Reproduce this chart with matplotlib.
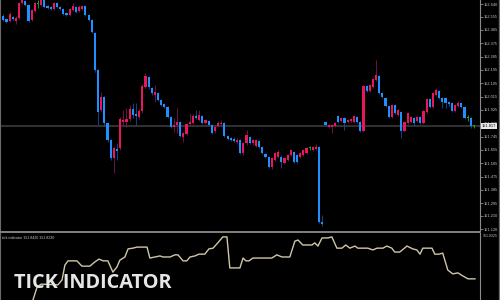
import numpy as np
import matplotlib
matplotlib.use("Agg")
import matplotlib.pyplot as plt
from matplotlib.lines import Line2D

# OHLC of the 150 bars, left to right
opens = [
    152.559, 152.539, 152.525, 152.552, 152.525, 152.546, 152.647, 152.660, 152.633, 152.532,
    152.593, 152.640, 152.633, 152.667, 152.627, 152.620, 152.606, 152.647, 152.620, 152.606,
    152.579, 152.566, 152.600, 152.620, 152.593, 152.606, 152.627, 152.566, 152.532, 152.444,
    152.195, 151.925, 152.012, 151.837, 151.722, 151.601, 151.661, 151.668, 151.844, 151.844,
    151.864, 151.931, 151.898, 151.877, 151.918, 152.080, 152.147, 152.073, 152.026, 152.039,
    151.992, 151.965, 151.945, 151.877, 151.810, 151.823, 151.844, 151.742, 151.763, 151.830,
    151.837, 151.884, 151.857, 151.884, 151.837, 151.850, 151.823, 151.783, 151.817, 151.830,
    151.837, 151.749, 151.736, 151.729, 151.709, 151.722, 151.634, 151.702, 151.742, 151.702,
    151.682, 151.715, 151.675, 151.628, 151.607, 151.540, 151.587, 151.607, 151.607, 151.567,
    151.587, 151.621, 151.641, 151.621, 151.607, 151.621, 151.634, 151.668, 151.655, 151.661,
    151.675, 151.169, 151.844, 151.810, 151.810, 151.817, 151.884, 151.850, 151.871, 151.844,
    151.850, 151.844, 151.877, 151.844, 151.783, 152.086, 152.053, 152.080, 152.127, 152.154,
    152.039, 152.006, 151.952, 151.877, 151.958, 151.891, 151.911, 151.783, 151.837, 151.844,
    151.871, 151.850, 151.877, 151.837, 151.911, 151.999, 151.945, 152.026, 152.053, 152.006,
    152.006, 151.979, 151.972, 151.918, 151.952, 151.972, 151.945, 151.871, 151.871, 151.817,
]
closes = [
    152.532, 152.519, 152.573, 152.539, 152.546, 152.647, 152.667, 152.633, 152.525, 152.600,
    152.647, 152.640, 152.667, 152.620, 152.613, 152.606, 152.647, 152.620, 152.606, 152.573,
    152.566, 152.606, 152.627, 152.586, 152.620, 152.627, 152.566, 152.532, 152.451, 152.195,
    151.911, 152.012, 151.837, 151.722, 151.601, 151.668, 151.648, 151.864, 151.857, 151.864,
    151.931, 151.891, 151.884, 151.918, 152.086, 152.154, 152.080, 152.039, 152.046, 151.992,
    151.958, 151.945, 151.877, 151.810, 151.823, 151.844, 151.749, 151.769, 151.830, 151.844,
    151.884, 151.871, 151.891, 151.837, 151.857, 151.823, 151.769, 151.810, 151.837, 151.837,
    151.749, 151.729, 151.722, 151.715, 151.722, 151.634, 151.702, 151.756, 151.702, 151.722,
    151.722, 151.675, 151.634, 151.607, 151.540, 151.601, 151.634, 151.641, 151.574, 151.601,
    151.621, 151.655, 151.574, 151.574, 151.634, 151.655, 151.668, 151.668, 151.675, 151.675,
    151.169, 151.155, 151.823, 151.823, 151.823, 151.837, 151.844, 151.871, 151.837, 151.857,
    151.864, 151.884, 151.844, 151.783, 152.086, 152.053, 152.093, 152.134, 152.161, 152.039,
    152.012, 151.952, 151.877, 151.958, 151.904, 151.925, 151.783, 151.844, 151.904, 151.877,
    151.837, 151.877, 151.837, 151.918, 151.999, 151.945, 152.039, 152.060, 152.006, 151.979,
    151.972, 151.965, 151.918, 151.958, 151.972, 151.945, 151.871, 151.871, 151.817, 151.817,
]
highs = [
    152.573, 152.546, 152.586, 152.559, 152.559, 152.653, 152.667, 152.667, 152.640, 152.606,
    152.653, 152.667, 152.667, 152.667, 152.633, 152.627, 152.653, 152.653, 152.627, 152.613,
    152.586, 152.613, 152.647, 152.627, 152.633, 152.633, 152.633, 152.573, 152.539, 152.451,
    152.201, 152.046, 152.019, 151.844, 151.729, 151.682, 151.702, 151.877, 151.925, 151.938,
    151.958, 151.972, 151.972, 151.931, 152.100, 152.174, 152.154, 152.080, 152.093, 152.046,
    151.999, 151.972, 151.952, 151.884, 151.871, 151.938, 151.850, 151.776, 151.837, 151.904,
    151.898, 151.925, 151.925, 151.891, 151.864, 151.857, 151.830, 151.823, 151.850, 151.857,
    151.844, 151.756, 151.742, 151.742, 151.736, 151.729, 151.709, 151.790, 151.749, 151.729,
    151.729, 151.722, 151.682, 151.634, 151.614, 151.607, 151.641, 151.655, 151.621, 151.607,
    151.628, 151.661, 151.648, 151.628, 151.641, 151.661, 151.675, 151.682, 151.682, 151.695,
    151.682, 151.216, 151.850, 151.830, 151.830, 151.844, 151.891, 151.877, 151.877, 151.864,
    151.871, 151.891, 151.884, 151.850, 152.093, 152.093, 152.100, 152.141, 152.262, 152.161,
    152.046, 152.012, 151.958, 151.965, 151.965, 151.931, 151.918, 151.850, 151.911, 151.884,
    151.877, 151.884, 151.884, 151.925, 152.006, 152.006, 152.046, 152.073, 152.060, 152.012,
    152.012, 151.985, 151.979, 151.965, 151.985, 151.979, 151.952, 151.891, 151.877, 151.823,
]
lows = [
    152.525, 152.512, 152.519, 152.532, 152.505, 152.539, 152.640, 152.627, 152.519, 152.525,
    152.586, 152.613, 152.627, 152.613, 152.606, 152.600, 152.600, 152.613, 152.600, 152.566,
    152.559, 152.559, 152.593, 152.579, 152.586, 152.600, 152.559, 152.525, 152.444, 152.181,
    151.823, 151.911, 151.817, 151.709, 151.587, 151.499, 151.587, 151.655, 151.823, 151.810,
    151.850, 151.871, 151.823, 151.864, 151.904, 152.073, 152.066, 152.026, 151.979, 151.985,
    151.952, 151.938, 151.871, 151.803, 151.776, 151.769, 151.742, 151.709, 151.756, 151.823,
    151.830, 151.864, 151.850, 151.830, 151.830, 151.817, 151.763, 151.769, 151.810, 151.817,
    151.742, 151.722, 151.715, 151.709, 151.695, 151.628, 151.621, 151.688, 151.695, 151.688,
    151.675, 151.668, 151.628, 151.601, 151.533, 151.526, 151.580, 151.601, 151.533, 151.560,
    151.580, 151.614, 151.567, 151.567, 151.601, 151.614, 151.628, 151.655, 151.648, 151.655,
    151.162, 151.142, 151.817, 151.803, 151.769, 151.810, 151.837, 151.844, 151.790, 151.837,
    151.844, 151.837, 151.837, 151.776, 151.776, 152.046, 152.046, 152.073, 152.120, 152.033,
    152.006, 151.945, 151.871, 151.871, 151.898, 151.884, 151.736, 151.776, 151.830, 151.837,
    151.817, 151.844, 151.830, 151.830, 151.904, 151.938, 151.938, 152.019, 151.999, 151.938,
    151.938, 151.952, 151.911, 151.911, 151.945, 151.938, 151.864, 151.850, 151.803, 151.803,
]

# tick indicator line (bar position, value)
ind_x = [
    9.4, 10.7, 12, 17.3, 18.6, 19.5, 20.5, 23.3, 24.9, 27.4,
    29, 30.3, 31.6, 33.1, 34.7, 36, 36.9, 38.5, 39.5, 41,
    42.3, 45.5, 46.4, 48, 49.6, 50.5, 52.8, 54.3, 55.3, 56.9,
    58.1, 59.1, 60.7, 61.9, 63.8, 65.1, 66.4, 67.9, 69.5, 70.8,
    71.7, 74.9, 75.9, 76.8, 77.8, 79, 85, 86.6, 88.2, 90.7,
    92.3, 93.3, 94.8, 97.7, 98.6, 99.6, 100.9, 102.8, 104, 105.6,
    107.2, 108.4, 109.7, 111.3, 112.2, 115.4, 117, 118.3, 120.2, 121.4,
    123, 123.9, 125.5, 127.8, 129.6, 130.9, 131.9, 132.8, 135.7, 136.6,
    137.9, 139.1, 140.7, 142.3, 143.9, 145.5, 147.1, 149.3,
]
ind_v = [
    151.8230, 151.8267, 151.8275, 151.8273, 151.8287, 151.8329, 151.8341, 151.8341, 151.8326, 151.8326,
    151.8338, 151.8346, 151.8341, 151.8341, 151.8309, 151.8324, 151.8343, 151.8352, 151.8375, 151.8377,
    151.8380, 151.8380, 151.8349, 151.8352, 151.8355, 151.8352, 151.8352, 151.8358, 151.8358, 151.8341,
    151.8341, 151.8352, 151.8355, 151.8360, 151.8360, 151.8375, 151.8377, 151.8392, 151.8409, 151.8409,
    151.8321, 151.8321, 151.8349, 151.8341, 151.8341, 151.8349, 151.8349, 151.8358, 151.8352, 151.8352,
    151.8397, 151.8400, 151.8386, 151.8386, 151.8392, 151.8383, 151.8406, 151.8406, 151.8409, 151.8377,
    151.8377, 151.8386, 151.8377, 151.8383, 151.8377, 151.8377, 151.8372, 151.8377, 151.8377, 151.8383,
    151.8377, 151.8366, 151.8366, 151.8383, 151.8375, 151.8372, 151.8360, 151.8377, 151.8377, 151.8360,
    151.8360, 151.8363, 151.8315, 151.8304, 151.8307, 151.8298, 151.8290, 151.8290,
]

price_ticks = [152.640, 152.555, 152.465, 152.375, 152.285, 152.195, 152.105, 152.015, 151.925,
               151.835, 151.745, 151.655, 151.565, 151.475, 151.385, 151.295, 151.210, 151.120]
last_price = 151.817
ind_max, ind_min, ind_mid = 151.8420, 151.8230, 151.8325

BULL, BEAR, DOJI = "#e8175d", "#1e90ff", "#1fae1f"
BULL_WICK, BEAR_WICK = "#7e1452", "#1b4c9a"
GRID = "#8c8c8c"
TXT = "#c8c8c8"
SMALL = ["Liberation Sans", "DejaVu Sans"]

fig = plt.figure(figsize=(5, 3), dpi=100, facecolor="black")
ax = fig.add_axes([0.0, 1 - 231 / 300, 0.96, 231 / 300], facecolor="black")
ax2 = fig.add_axes([0.0, 0.0, 0.96, 67 / 300], facecolor="black")

o = np.array(opens); c = np.array(closes)
h = np.array(highs); l = np.array(lows)
x = np.arange(len(o))
flat = c == o
col = np.where(c > o, BULL, BEAR)
col = np.where(flat, DOJI, col)
wcol = np.where(c > o, BULL_WICK, BEAR_WICK)
wcol = np.where(flat, DOJI, wcol)

ax.vlines(x, l, h, colors=wcol, linewidth=0.6, zorder=2)
body_lo = np.minimum(o, c)
body_h = np.maximum(np.abs(c - o), 0.004)
ax.bar(x, body_h, bottom=body_lo, width=0.68, color=col, linewidth=0, zorder=3)

ax.axhline(last_price, color="#3a3a3a", linewidth=1.2, zorder=1)

ax.set_xlim(-1.04, 150.9)
ax.set_ylim(151.108, 152.667)
ax.set_yticks(price_ticks)
ax.set_yticklabels([f"{p:.3f}" for p in price_ticks], family=SMALL)
ax.yaxis.tick_right()
ax.tick_params(axis="y", colors=GRID, labelcolor=TXT, labelsize=2.8, length=2, width=0.6, pad=1.0)
ax.tick_params(axis="x", bottom=False, labelbottom=False)
for s in ["top", "bottom"]:
    ax.spines[s].set_visible(False)
ax.spines["right"].set_color(GRID)
ax.spines["right"].set_linewidth(0.8)
ax.spines["left"].set_color("#6a6a6a")
ax.spines["left"].set_linewidth(0.8)

# current price box, drawn over the axis labels like the terminal does
ax.text(1.004, last_price, f"{last_price:.3f}", transform=ax.get_yaxis_transform(),
        fontsize=2.8, family=SMALL, color="black", va="center", ha="left", zorder=5,
        bbox=dict(boxstyle="square,pad=0.15", facecolor="#e8e8e8", edgecolor="none"), clip_on=False)

ax2.plot(ind_x, ind_v, color="#cfc7a8", linewidth=1.0)
ax2.set_xlim(-1.04, 150.9)
ax2.set_ylim(ind_min, ind_max)
ax2.set_xticks([]); ax2.set_yticks([])
for s in ["top", "bottom"]:
    ax2.spines[s].set_visible(False)
ax2.spines["right"].set_color(GRID)
ax2.spines["right"].set_linewidth(0.8)
ax2.spines["left"].set_color("#6a6a6a")
ax2.spines["left"].set_linewidth(0.8)
ax2.text(0.005, 0.93, f"tick indicator {ind_max:.4f} {ind_min:.4f}", transform=ax2.transAxes,
         fontsize=2.6, family=SMALL, color=TXT, va="center", ha="left")
ax2.text(1.005, 0.955, f"{ind_mid:.4f}", transform=ax2.transAxes, family=SMALL,
         fontsize=2.5, color=TXT, va="center", ha="left", clip_on=False)

# panel separator and window border
fig.add_artist(Line2D([0, 0.96], [1 - 231.7 / 300] * 2, color=GRID, linewidth=1.3))
fig.add_artist(Line2D([0.997, 0.997], [0, 1], color="#6a6a6a", linewidth=1.0))

fig.text(14 / 500, 1 - 283 / 300, "TICK INDICATOR", fontsize=14.3, fontweight="bold",
         family=["Open Sans", "DejaVu Sans"], color="#e6e6e6", va="center", ha="left")

fig.savefig("out.png", dpi=100, facecolor="black")
